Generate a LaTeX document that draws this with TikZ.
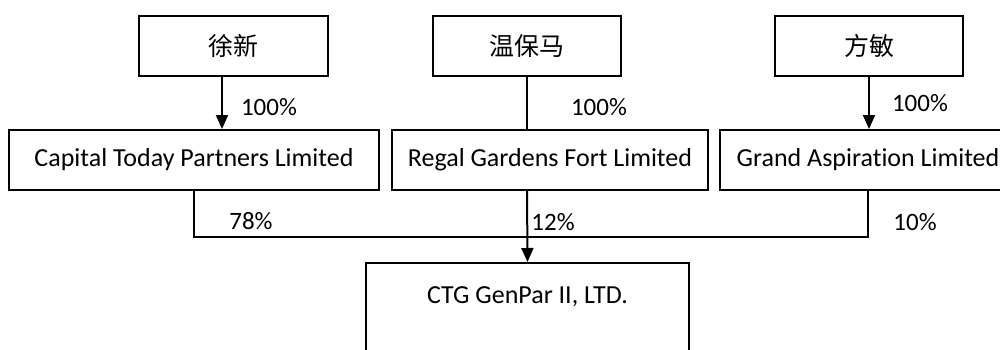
\documentclass[tikz,border=0pt]{standalone}
\usepackage{fontspec}
\setmainfont[Ligatures=NoCommon]{Carlito}
\newfontfamily\cjk{Noto Sans CJK SC}
\usetikzlibrary{arrows.meta,calc}
\begin{document}
\begin{tikzpicture}[x=1pt,y=1pt,
  box/.style={draw,line width=2pt,minimum height=60pt,inner sep=0pt,font=\fontsize{26}{30}\selectfont},
  cbox/.style={box,font=\cjk\fontsize{25}{30}\selectfont},
  pct/.style={inner sep=0pt,font=\fontsize{25}{30}\selectfont},
  conn/.style={line width=2pt},
  arr/.style={conn,-{Triangle[width=12pt,length=14pt]}}]
\useasboundingbox (0,0) rectangle (1000,-349);
\node[cbox,minimum width=189pt] (xu) at (233.5,-46) {徐新};
\node[cbox,minimum width=188pt] (wen) at (527,-46) {温保马};
\node[cbox,minimum width=188pt] (fang) at (869,-46) {方敏};
\node[box,minimum width=370pt] (cap) at (194,-160) {Capital Today Partners Limited};
\node[box,minimum width=316pt] (regal) at (550,-160) {Regal Gardens Fort Limited};
\node[box,minimum width=296pt] (grand) at (868,-160) {Grand Aspirat\kern0pt ion Limited};
\node[box,minimum width=323pt,minimum height=120pt] (ctg) at (527.5,-323) {};
\node[pct,font=\fontsize{26}{30}\selectfont] (ctgt) at (527.5,-297) {CTG GenPar II, LTD.};
\coordinate (bus) at (0,-237);
\draw[arr] ([xshift=-11.5pt]xu.south) -- ([xshift=-11.5pt]xu.south |- cap.north);
\draw[conn] (wen.south) -- (wen.south |- regal.north);
\draw[arr] (fang.south) -- (fang.south |- grand.north);
\draw[conn] (cap.south) -- (cap.south |- bus) -- (grand.south |- bus) -- (grand.south);
\draw[arr] (regal.south -| wen.south) -- (ctg.north);
\node[pct] (p1) at (269,-107) {100\%};
\node[pct] (p2) at (599,-107) {100\%};
\node[pct] (p3) at (920,-103) {100\%};
\node[pct] (p4) at (251,-221) {78\%};
\node[pct] (p5) at (553,-222) {12\%};
\node[pct] (p6) at (915,-222) {10\%};
\end{tikzpicture}
\end{document}
